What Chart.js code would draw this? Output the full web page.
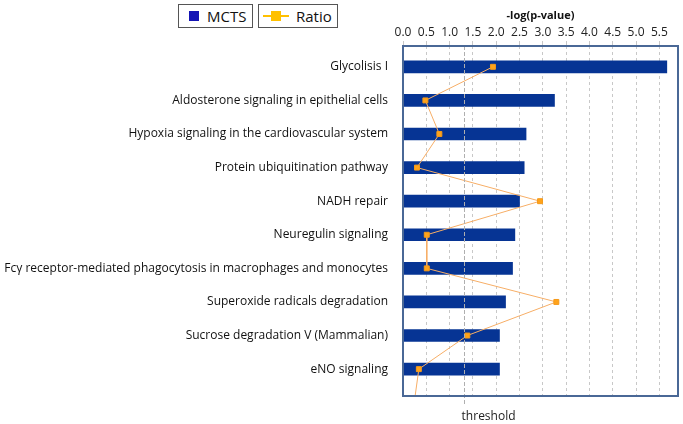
<!DOCTYPE html>
<html>
<head>
<meta charset="utf-8">
<script src="https://cdn.jsdelivr.net/npm/chart.js@4/dist/chart.umd.min.js"></script>
<style>
  html, body { margin: 0; padding: 0; background: #fff; }
  #wrap { position: relative; width: 683px; height: 424px; }
  #c { position: absolute; left: 0; top: 0; }
  .lg { position: absolute; top: 4px; height: 22px; border: 1px solid #555; background: #fff;
        font-family: "Open Sans", sans-serif; font-size: 15px; color: #111; line-height: 22px; box-sizing: content-box; }
  .lg span { position: absolute; top: 0; }
</style>
</head>
<body>
<div id="wrap">
  <canvas id="c" width="683" height="424"></canvas>
  <div class="lg" style="left:178px; width:73px;">
    <div style="position:absolute; left:10px; top:6px; width:10px; height:10px; background:#1414b4;"></div>
    <span style="left:28px;">MCTS</span>
  </div>
  <div class="lg" style="left:258px; width:78px;">
    <div style="position:absolute; left:4px; top:10px; width:26px; height:2px; background:#FFC000;"></div>
    <div style="position:absolute; left:12px; top:6px; width:10px; height:10px; background:#FFC000;"></div>
    <span style="left:37px;">Ratio</span>
  </div>
</div>
<script>
const categories = [
  "Glycolisis I",
  "Aldosterone signaling in epithelial cells",
  "Hypoxia signaling in the cardiovascular system",
  "Protein ubiquitination pathway",
  "NADH repair",
  "Neuregulin signaling",
  "Fc\u03b3 receptor-mediated phagocytosis in macrophages and monocytes",
  "Superoxide radicals degradation",
  "Sucrose degradation V (Mammalian)",
  "eNO signaling"
];
const logP = [5.66, 3.25, 2.64, 2.60, 2.50, 2.40, 2.35, 2.20, 2.07, 2.07];
// ratio line, plotted on a hidden secondary axis; last point continues off the plot
const ratio = [1.93, 0.48, 0.78, 0.30, 2.94, 0.51, 0.51, 3.29, 1.38, 0.34, 0.24];
const xTicks = [0, 0.5, 1, 1.5, 2, 2.5, 3, 3.5, 4, 4.5, 5, 5.5];
const thresholdValue = 1.3;

const FONT = '"Open Sans", sans-serif';

const framePlugin = {
  id: 'frame',
  afterDatasetsDraw(chart) {
    const { ctx, chartArea: a, scales } = chart;
    const tx = scales.x.getPixelForValue(thresholdValue);
    ctx.save();
    ctx.strokeStyle = 'rgba(175,175,175,1)';
    ctx.lineWidth = 1;
    ctx.setLineDash([4, 2]);
    ctx.beginPath();
    ctx.moveTo(Math.round(tx) + 0.5, a.top);
    ctx.lineTo(Math.round(tx) + 0.5, a.bottom + 10);
    ctx.stroke();
    ctx.setLineDash([]);
    ctx.fillStyle = '#222';
    ctx.font = '12px ' + FONT;
    ctx.textAlign = 'left';
    ctx.textBaseline = 'middle';
    ctx.fillText('threshold', tx - 2, a.bottom + 21);
    ctx.strokeStyle = '#4a6896';
    ctx.lineWidth = 2;
    ctx.strokeRect(a.left, a.top, a.right - a.left, a.bottom - a.top);
    ctx.restore();
  }
};

new Chart(document.getElementById('c'), {
  type: 'bar',
  data: {
    datasets: [
      {
        type: 'line',
        label: 'Ratio',
        data: ratio.map((v, i) => ({ x: v, y: i })),
        xAxisID: 'x2',
        yAxisID: 'y',
        borderColor: '#F7AE66',
        borderWidth: 1,
        backgroundColor: '#FFA31A',
        pointBackgroundColor: '#FFA31A',
        pointBorderColor: '#F59A1A',
        pointBorderWidth: 1,
        pointStyle: 'rect',
        pointRadius: ratio.map((v, i) => i < categories.length ? 3.5 : 0),
        tension: 0,
        order: 0
      },
      {
        label: 'MCTS',
        data: logP.map((v, i) => ({ x: v, y: i })),
        xAxisID: 'x',
        yAxisID: 'y',
        backgroundColor: '#063494',
        borderWidth: 0,
        barThickness: 12,
        order: 1
      }
    ]
  },
  options: {
    indexAxis: 'y',
    responsive: false,
    animation: false,
    layout: { padding: { left: 0, right: 4, top: 0, bottom: 28 } },
    plugins: { legend: { display: false }, tooltip: { enabled: false } },
    scales: {
      x: {
        type: 'linear',
        position: 'top',
        min: 0,
        max: 5.9,
        afterBuildTicks(s) { s.ticks = xTicks.map(v => ({ value: v })); },
        afterFit(s) { s.height = 46; s.paddingTop = 0; s.paddingBottom = 0; },
        ticks: {
          color: '#222',
          font: { family: FONT, size: 12 },
          padding: 1,
          callback: v => Number(v).toFixed(1)
        },
        title: {
          display: true,
          text: '-log(p-value)',
          color: '#111',
          font: { family: FONT, size: 11, weight: 'bold' },
          padding: { top: 9, bottom: 0 }
        },
        grid: {
          color: '#c8c8c8',
          lineWidth: 1,
          tickLength: 5,
          drawTicks: true
        },
        border: { display: false, dash: [3, 3] }
      },
      x2: {
        type: 'linear',
        display: false,
        min: 0,
        max: 5.9
      },
      y: {
        type: 'linear',
        reverse: true,
        offset: false,
        min: -0.62,
        max: 9.8,
        afterBuildTicks(s) { s.ticks = categories.map((c, i) => ({ value: i })); },
        afterFit(s) { s.width = 403; s.paddingTop = 0; s.paddingBottom = 0; },
        ticks: {
          color: '#111',
          font: { family: FONT, size: 12 },
          padding: 15,
          autoSkip: false,
          callback: v => categories[v]
        },
        grid: { display: false, drawTicks: false, tickLength: 0 },
        border: { display: false }
      }
    }
  },
  plugins: [framePlugin]
});
</script>
</body>
</html>
